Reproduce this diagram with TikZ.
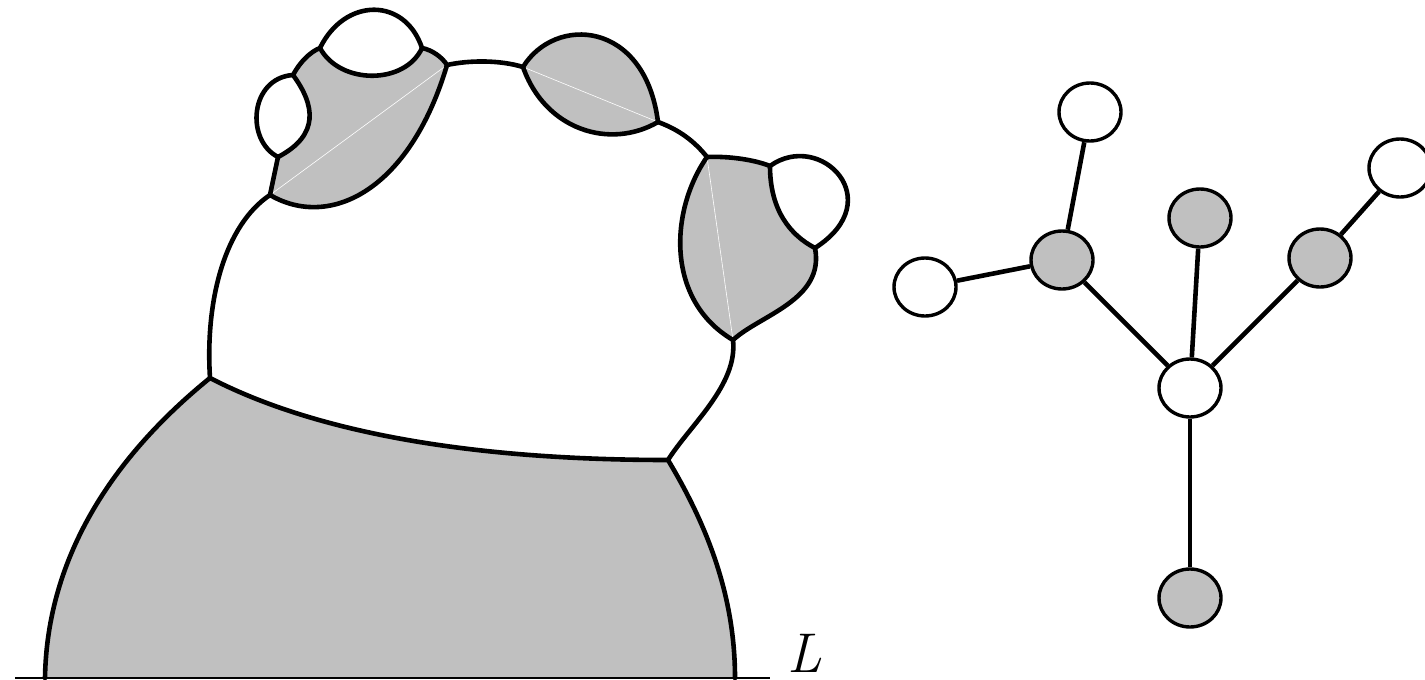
\documentclass[tikz,border=0pt]{standalone}
\usetikzlibrary{shapes.geometric}
\definecolor{fillgray}{RGB}{192,192,192}
\begin{document}
\begin{tikzpicture}[x=1pt,y=-1pt,
  outline/.style={line width=4.6pt,line join=round,line cap=round},
  seam/.style={white,line width=0.6pt},
  wnode/.style={ellipse,draw,line width=3.4pt,fill=white,minimum width=62pt,minimum height=58pt,inner sep=0pt},
  gnode/.style={wnode,fill=fillgray},
  edge/.style={line width=4.6pt}]
\useasboundingbox (0,0) rectangle (1425,680);
% vertices
\coordinate (P0) at (45,678);
\coordinate (P1) at (210,378);
\coordinate (P2) at (668,460);
\coordinate (P3) at (735,678);
\coordinate (Q1) at (270,195);
\coordinate (Q2) at (278,157);
\coordinate (Q3) at (293,75);
\coordinate (Q4) at (320,48);
\coordinate (Q5) at (422,48);
\coordinate (Q6) at (447,65);
\coordinate (M1) at (523,67);
\coordinate (M2) at (658,122);
\coordinate (N1) at (707,157);
\coordinate (N2) at (770,166);
\coordinate (N3) at (815,248);
\coordinate (N4) at (733,340);
\coordinate (La) at (15,678);
\coordinate (Lb) at (770,678);
% fills
\fill[fillgray] (P0) .. controls (47,555) and (115,455) .. (P1)
  .. controls (330,440) and (500,460) .. (P2)
  .. controls (710,530) and (735,600) .. (P3) -- cycle;
\fill[fillgray] (Q1) -- (Q2) .. controls (320,135) and (315,105) .. (Q3)
  .. controls (300,62) and (310,52) .. (Q4)
  .. controls (340,85) and (405,85) .. (Q5)
  .. controls (432,50) and (442,57) .. (Q6)
  .. controls (410,190) and (330,230) .. (Q1) -- cycle;
\fill[fillgray] (M1) .. controls (555,15) and (645,20) .. (M2)
  .. controls (610,150) and (545,130) .. (M1) -- cycle;
\fill[fillgray] (N1) .. controls (730,156) and (755,160) .. (N2)
  .. controls (770,210) and (790,235) .. (N3)
  .. controls (825,300) and (760,315) .. (N4)
  .. controls (665,300) and (670,210) .. (N1) -- cycle;
% seams
\draw[seam] (Q1) -- (Q6);
\draw[seam] (M1) -- (M2);
\draw[seam] (N1) -- (N4);
% baseline
\draw[line width=2.6pt] (La) -- (Lb);
\node[anchor=base west,inner sep=0pt] (Lab) at (787,672) {\fontsize{56}{56}\selectfont\itshape L};
% outlines
\draw[outline] (P0) .. controls (47,555) and (115,455) .. (P1)
  .. controls (330,440) and (500,460) .. (P2)
  .. controls (710,530) and (735,600) .. (P3);
\draw[outline] (P1) .. controls (205,300) and (225,225) .. (Q1);
\draw[outline] (P2) .. controls (690,425) and (738,385) .. (N4);
\draw[outline] (Q1) -- (Q2);
\draw[outline] (Q2) .. controls (320,135) and (315,105) .. (Q3);
\draw[outline] (Q3) .. controls (250,78) and (245,140) .. (Q2);
\draw[outline] (Q3) .. controls (300,62) and (310,52) .. (Q4);
\draw[outline] (Q4) .. controls (345,-3) and (405,-3) .. (Q5);
\draw[outline] (Q4) .. controls (340,85) and (405,85) .. (Q5);
\draw[outline] (Q5) .. controls (432,50) and (442,57) .. (Q6);
\draw[outline] (Q6) .. controls (410,190) and (330,230) .. (Q1);
\draw[outline] (Q6) .. controls (470,60) and (500,60) .. (M1);
\draw[outline] (M1) .. controls (555,15) and (645,20) .. (M2);
\draw[outline] (M1) .. controls (545,130) and (610,150) .. (M2);
\draw[outline] (M2) .. controls (680,130) and (695,142) .. (N1);
\draw[outline] (N1) .. controls (730,156) and (755,160) .. (N2);
\draw[outline] (N2) .. controls (820,130) and (890,200) .. (N3);
\draw[outline] (N2) .. controls (770,210) and (790,235) .. (N3);
\draw[outline] (N3) .. controls (825,300) and (760,315) .. (N4);
\draw[outline] (N1) .. controls (670,210) and (665,300) .. (N4);
% tree
\node[wnode] (A) at (1090,112) {};
\node[wnode] (B) at (925,287) {};
\node[gnode] (C) at (1062,260) {};
\node[gnode] (D) at (1200,218) {};
\node[gnode] (E) at (1320,258) {};
\node[wnode] (F) at (1400,168) {};
\node[wnode] (G) at (1190,388) {};
\node[gnode] (H) at (1190,598) {};
\draw[edge] (B) -- (C);
\draw[edge] (A) -- (C);
\draw[edge] (C) -- (G);
\draw[edge] (D) -- (G);
\draw[edge] (E) -- (G);
\draw[edge] (E) -- (F);
\draw[edge] (G) -- (H);
\end{tikzpicture}
\end{document}
